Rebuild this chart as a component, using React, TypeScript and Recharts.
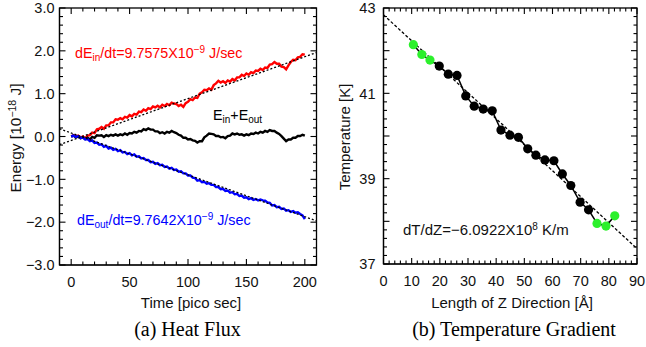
import React from "react";
import { LineChart, Line, XAxis, YAxis } from "recharts";

// (a) heat flux: time in ps, energy in 1e-18 J
const times = [
  0, 2, 4, 6, 8, 10, 12, 14, 16, 18, 20, 22, 24, 26, 28, 30, 32, 34, 36, 38, 40,
  42, 44, 46, 48, 50, 52, 54, 56, 58, 60, 62, 64, 66, 68, 70, 72, 74, 76, 78, 80,
  82, 84, 86, 88, 90, 92, 94, 96, 98, 100, 102, 104, 106, 108, 110, 112, 114, 116, 118, 120,
  122, 124, 126, 128, 130, 132, 134, 136, 138, 140, 142, 144, 146, 148, 150, 152, 154, 156, 158, 160,
  162, 164, 166, 168, 170, 172, 174, 176, 178, 180, 182, 184, 186, 188, 190, 192, 194, 196, 198, 200,
];
const eIn = [
  0.0, 0.03, 0.0, 0.02, -0.03, 0.0, -0.04, 0.02, 0.03, 0.09, 0.08, 0.17, 0.18, 0.22, 0.18, 0.26, 0.26, 0.33, 0.33, 0.4, 0.39,
  0.43, 0.4, 0.46, 0.44, 0.5, 0.47, 0.53, 0.51, 0.58, 0.57, 0.63, 0.6, 0.66, 0.64, 0.7, 0.68, 0.72, 0.68, 0.74, 0.71,
  0.76, 0.73, 0.79, 0.77, 0.76, 0.71, 0.74, 0.69, 0.78, 0.81, 0.87, 0.85, 0.91, 0.9, 1.0, 1.03, 1.09, 1.08, 1.12, 1.09,
  1.2, 1.24, 1.3, 1.26, 1.29, 1.25, 1.31, 1.28, 1.34, 1.31, 1.38, 1.38, 1.44, 1.41, 1.47, 1.44, 1.5, 1.48, 1.54, 1.53,
  1.58, 1.55, 1.61, 1.6, 1.68, 1.69, 1.74, 1.7, 1.7, 1.63, 1.62, 1.57, 1.66, 1.74, 1.79, 1.78, 1.85, 1.86, 1.92, 1.91,
];
const eSum = [
  0.0, 0.02, -0.02, 0.0, -0.04, -0.02, -0.06, -0.03, -0.07, -0.01, -0.03, 0.03, 0.02, 0.03, -0.01, 0.03, 0.01, 0.04, 0.02, 0.05, 0.02,
  0.05, 0.03, 0.07, 0.04, 0.08, 0.07, 0.11, 0.09, 0.13, 0.12, 0.17, 0.15, 0.19, 0.16, 0.16, 0.12, 0.12, 0.08, 0.1, 0.07,
  0.11, 0.09, 0.13, 0.1, 0.08, 0.04, 0.02, -0.03, -0.03, -0.07, -0.06, -0.09, -0.1, -0.14, -0.11, -0.11, -0.02, 0.02, 0.07, 0.06,
  0.05, 0.01, 0.01, -0.02, -0.01, -0.04, 0.01, 0.02, 0.07, 0.05, 0.07, 0.04, 0.05, 0.02, 0.05, 0.03, 0.07, 0.06, 0.09, 0.07,
  0.11, 0.09, 0.13, 0.11, 0.15, 0.13, 0.13, 0.09, 0.06, 0.01, -0.05, -0.11, -0.07, -0.07, -0.03, -0.03, 0.01, 0.01, 0.04, 0.02,
];
const eOut = [
  0.0, 0.02, -0.01, 0.01, -0.04, -0.02, -0.07, -0.06, -0.11, -0.09, -0.15, -0.14, -0.19, -0.18, -0.24, -0.22, -0.28, -0.26, -0.31, -0.29, -0.34,
  -0.32, -0.37, -0.36, -0.41, -0.39, -0.44, -0.42, -0.47, -0.46, -0.51, -0.5, -0.55, -0.55, -0.6, -0.59, -0.64, -0.62, -0.67, -0.66, -0.71,
  -0.7, -0.75, -0.73, -0.78, -0.77, -0.82, -0.81, -0.86, -0.86, -0.91, -0.91, -0.96, -0.97, -1.03, -1.02, -1.07, -1.06, -1.1, -1.09, -1.13,
  -1.13, -1.18, -1.18, -1.23, -1.22, -1.27, -1.26, -1.31, -1.3, -1.35, -1.34, -1.39, -1.38, -1.43, -1.42, -1.46, -1.44, -1.48, -1.46, -1.49,
  -1.47, -1.49, -1.5, -1.54, -1.55, -1.61, -1.6, -1.65, -1.64, -1.69, -1.68, -1.73, -1.72, -1.76, -1.74, -1.78, -1.77, -1.81, -1.84, -1.93,
];
// fitted lines, end points
const fitInT = [-10, 210];
const fitInE = [-0.19, 1.96];
const fitOutT = [-10, 210];
const fitOutE = [0.18, -1.97];

// (b) temperature profile along z (Å, K)
const zPos = [
  10.6, 13.6, 16.5, 19.8, 23.0, 26.1, 29.2, 32.2, 35.4, 38.6, 41.7, 44.9,
  47.9, 51.2, 54.1, 57.3, 60.5, 63.5, 66.5, 69.8, 72.8, 75.8, 79.0, 82.1,
];
const temps = [
  42.14, 41.91, 41.78, 41.64, 41.45, 41.42, 40.94, 40.7, 40.63, 40.59, 40.14, 40.02,
  39.97, 39.7, 39.55, 39.44, 39.42, 39.11, 38.84, 38.45, 38.27, 37.95, 37.89, 38.13,
];
const region = [
  "bath", "bath", "bath", "slab", "slab", "slab", "slab", "slab", "slab", "slab", "slab", "slab",
  "slab", "slab", "slab", "slab", "slab", "slab", "slab", "slab", "slab", "bath", "bath", "bath",
];
const fitZ = [0, 90];
const fitT = [42.84, 37.36];

const energyLabels = [-3, -2, -1, 0, 1, 2, 3];
const timeLabels = [0, 50, 100, 150, 200];
const tempLabels = [37, 39, 41, 43];
const zLabels = [0, 10, 20, 30, 40, 50, 60, 70, 80, 90];

const range = (a: number, b: number, s: number) =>
  Array.from({ length: Math.round((b - a) / s) + 1 }, (_, i) => +(a + i * s).toFixed(4));

const inRows = times.map((t, i) => ({ t, e: eIn[i] }));
const sumRows = times.map((t, i) => ({ t, e: eSum[i] }));
const outRows = times.map((t, i) => ({ t, e: eOut[i] }));
const fitInRows = fitInT.map((t, i) => ({ t, e: fitInE[i] }));
const fitOutRows = fitOutT.map((t, i) => ({ t, e: fitOutE[i] }));
const tempRows = zPos.map((z, i) => ({ z, T: temps[i], r: region[i] }));
const fitRows = fitZ.map((z, i) => ({ z, T: fitT[i] }));

const sans = "'Liberation Sans', Arial, sans-serif";
const serif = "'Liberation Serif', 'Times New Roman', serif";

const near = (a: number, b: number) => Math.abs(a - b) < 1e-6;
const isMajor = (v: number, m: number) => near(v / m, Math.round(v / m));

// plot boxes (page px) and domains, shared by charts and the tick frame
const boxA = { left: 59.5, right: 316.5, top: 8, bottom: 265 };
const boxB = { left: 383.5, right: 637, top: 8, bottom: 264 };
const domA = { x: [-10, 210], y: [-3, 3] };
const domB = { x: [0, 90], y: [37, 43] };

const TickLabel = (props: any) => {
  const { x, y, payload, side, labels, fmt, gap } = props;
  const v = payload.value;
  if (!labels.some((l: number) => near(l, v))) return <g />;
  if (side === "left")
    return <text x={x - gap} y={y} dy="0.36em" textAnchor="end" fontSize={14.5} fontFamily={sans} fill="#111">{fmt(v)}</text>;
  return <text x={x} y={y + 22} textAnchor="middle" fontSize={14.5} fontFamily={sans} fill="#111">{fmt(v)}</text>;
};

// box outline with inward ticks on all four sides
const Frame = ({ box, dom, xt, yt, xMajor, yMajor }: any) => {
  const sx = (v: number) => box.left + ((v - dom.x[0]) / (dom.x[1] - dom.x[0])) * (box.right - box.left);
  const sy = (v: number) => box.bottom - ((v - dom.y[0]) / (dom.y[1] - dom.y[0])) * (box.bottom - box.top);
  return (
    <g stroke="#000" strokeWidth={1.1} fill="none">
      <rect x={box.left} y={box.top} width={box.right - box.left} height={box.bottom - box.top} strokeWidth={1.3} />
      {xt.map((v: number) => {
        const l = isMajor(v, xMajor) ? 6 : 3.5;
        const x = sx(v);
        return (
          <g key={`x${v}`}>
            <line x1={x} y1={box.bottom} x2={x} y2={box.bottom - l} />
            <line x1={x} y1={box.top} x2={x} y2={box.top + l} />
          </g>
        );
      })}
      {yt.map((v: number) => {
        const l = isMajor(v, yMajor) ? 6 : 3.5;
        const y = sy(v);
        return (
          <g key={`y${v}`}>
            <line x1={box.left} y1={y} x2={box.left + l} y2={y} />
            <line x1={box.right} y1={y} x2={box.right - l} y2={y} />
          </g>
        );
      })}
    </g>
  );
};

const minus = (s: string) => s.replace("-", "\u2212");
const axisCommon = {
  type: "number" as const,
  allowDataOverflow: true,
  interval: 0 as const,
  tickSize: 0,
  tickMargin: 0,
  tickLine: false,
  axisLine: { stroke: "#000", strokeWidth: 1.2 },
};

const HeatFlux = () => {
  const yFmt = (v: number) => minus(v.toFixed(1));
  return (
    <LineChart width={330} height={347} margin={{ top: boxA.top, right: 330 - boxA.right, bottom: 0, left: 0 }}>
      <XAxis {...axisCommon} dataKey="t" domain={domA.x} ticks={timeLabels} height={347 - boxA.bottom}
        tick={(p: any) => <TickLabel {...p} side="bottom" labels={timeLabels} fmt={(v: number) => String(v)} />} />
      <YAxis {...axisCommon} domain={domA.y} ticks={energyLabels} width={boxA.left}
        tick={(p: any) => <TickLabel {...p} side="left" labels={energyLabels} fmt={yFmt} gap={5} />} />
      <Line data={inRows} dataKey="e" stroke="#ff0000" strokeWidth={2.4} dot={false} isAnimationActive={false} />
      <Line data={sumRows} dataKey="e" stroke="#000000" strokeWidth={2.4} dot={false} isAnimationActive={false} />
      <Line data={outRows} dataKey="e" stroke="#0000ff" strokeWidth={2.4} dot={false} isAnimationActive={false} />
      <Line data={fitInRows} dataKey="e" stroke="#000" strokeWidth={1.3} strokeDasharray="2 2" dot={false} isAnimationActive={false} />
      <Line data={fitOutRows} dataKey="e" stroke="#000" strokeWidth={1.3} strokeDasharray="2 2" dot={false} isAnimationActive={false} />
    </LineChart>
  );
};

const TempGradient = () => (
  <LineChart width={316} height={347} margin={{ top: boxB.top, right: 646 - boxB.right, bottom: 0, left: 0 }}>
    <XAxis {...axisCommon} dataKey="z" domain={domB.x} ticks={zLabels} height={347 - boxB.bottom}
      tick={(p: any) => <TickLabel {...p} side="bottom" labels={zLabels} fmt={(v: number) => String(v)} />} />
    <YAxis {...axisCommon} domain={domB.y} ticks={tempLabels} width={boxB.left - 330}
      tick={(p: any) => <TickLabel {...p} side="left" labels={tempLabels} fmt={(v: number) => String(v)} gap={8} />} />
    <Line data={fitRows} dataKey="T" stroke="#000" strokeWidth={1.3} strokeDasharray="3 2" dot={false} isAnimationActive={false} />
    <Line data={tempRows} dataKey="T" stroke="#000" strokeWidth={1.5} isAnimationActive={false}
      dot={(p: any) => (
        <circle key={p.index} cx={p.cx} cy={p.cy} r={4.6}
          fill={p.payload.r === "bath" ? "#2cf02c" : "#000"} stroke="none" />
      )} />
  </LineChart>
);

const Labels = () => (
  <svg width={646} height={347} style={{ position: "absolute", left: 0, top: 0, pointerEvents: "none" }}>
    <Frame box={boxA} dom={domA} xt={range(0, 200, 10)} yt={range(-3, 3, 0.2)} xMajor={50} yMajor={1} />
    <Frame box={boxB} dom={domB} xt={range(0, 90, 2)} yt={range(37, 43, 0.2)} xMajor={10} yMajor={1} />
    <g fontFamily={sans}>
      <text x={75} y={58} fill="#ff0000" fontSize={14.3}>
        dE<tspan fontSize={10} dy={3}>in</tspan>
        <tspan dy={-3}>/dt=9.7575X10</tspan>
        <tspan fontSize={10} dy={-5}>{"\u22129"}</tspan>
        <tspan dy={5}>{"\u00a0J/sec"}</tspan>
      </text>
      <text x={213} y={120} fill="#000" fontSize={14.3}>
        E<tspan fontSize={10} dy={3}>in</tspan>
        <tspan dy={-3}>+E</tspan>
        <tspan fontSize={10} dy={3}>out</tspan>
      </text>
      <text x={77} y={225} fill="#0000ff" fontSize={14.3}>
        dE<tspan fontSize={10} dy={3}>out</tspan>
        <tspan dy={-3}>/dt=9.7642X10</tspan>
        <tspan fontSize={10} dy={-5}>{"\u22129"}</tspan>
        <tspan dy={5}>{"\u00a0J/sec"}</tspan>
      </text>
      <text x={403} y={235} fill="#111" fontSize={15}>
        dT/dZ={"\u2212"}6.0922X10<tspan fontSize={10} dy={-5}>8</tspan>
        <tspan dy={5}>{"\u00a0K/m"}</tspan>
      </text>
      <text x={191} y={308} textAnchor="middle" fontSize={15} fill="#111">Time [pico sec]</text>
      <text x={512} y={308} textAnchor="middle" fontSize={15} fill="#111">Length of Z Direction [Å]</text>
      <text x={20.5} y={138} textAnchor="middle" fontSize={15.5} fill="#111" transform="rotate(-90 20.5 138)">
        Energy [10<tspan fontSize={10.5} dy={-5}>{"\u221218"}</tspan>
        <tspan dy={5}>{"\u00a0J]"}</tspan>
      </text>
      <text x={350} y={137} textAnchor="middle" fontSize={15} fill="#111" transform="rotate(-90 350 137)">
        Temperature [K]
      </text>
    </g>
    <g fontFamily={serif} fontSize={20} fill="#000">
      <text x={187.5} y={336} textAnchor="middle">(a) Heat Flux</text>
      <text x={514} y={336} textAnchor="middle">(b) Temperature Gradient</text>
    </g>
  </svg>
);

export default function App() {
  return (
    <div style={{ position: "absolute", left: 0, top: 0, width: 646, height: 347, background: "#fff" }}>
      <div style={{ position: "absolute", left: 0, top: 0 }}>
        <HeatFlux />
      </div>
      <div style={{ position: "absolute", left: 330, top: 0 }}>
        <TempGradient />
      </div>
      <Labels />
    </div>
  );
}
